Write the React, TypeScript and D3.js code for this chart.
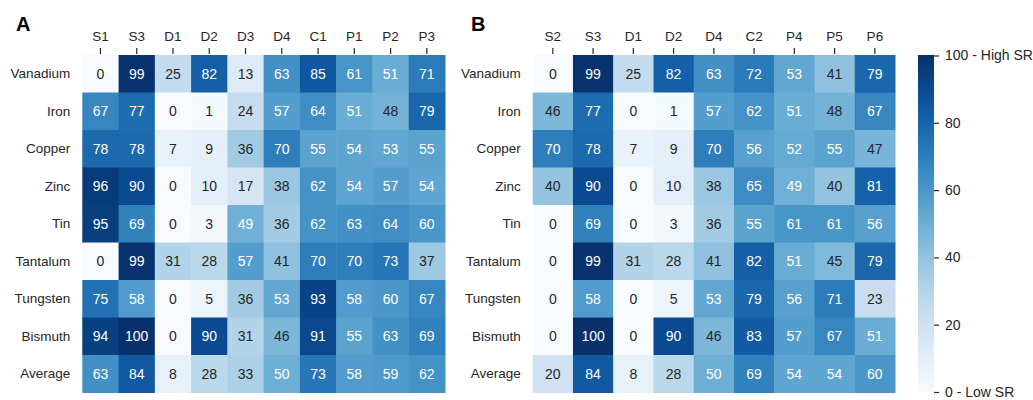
import React, { FC, useEffect, useRef } from "react";
import * as d3 from "d3";

// Row / column labels
const metals = ["Vanadium", "Iron", "Copper", "Zinc", "Tin", "Tantalum", "Tungsten", "Bismuth", "Average"];
const colsA = ["S1", "S3", "D1", "D2", "D3", "D4", "C1", "P1", "P2", "P3"];
const colsB = ["S2", "S3", "D1", "D2", "D4", "C2", "P4", "P5", "P6"];

// Values (rows follow metals order)
const valuesA = [
    [0, 99, 25, 82, 13, 63, 85, 61, 51, 71],
    [67, 77, 0, 1, 24, 57, 64, 51, 48, 79],
    [78, 78, 7, 9, 36, 70, 55, 54, 53, 55],
    [96, 90, 0, 10, 17, 38, 62, 54, 57, 54],
    [95, 69, 0, 3, 49, 36, 62, 63, 64, 60],
    [0, 99, 31, 28, 57, 41, 70, 70, 73, 37],
    [75, 58, 0, 5, 36, 53, 93, 58, 60, 67],
    [94, 100, 0, 90, 31, 46, 91, 55, 63, 69],
    [63, 84, 8, 28, 33, 50, 73, 58, 59, 62],
];
const valuesB = [
    [0, 99, 25, 82, 63, 72, 53, 41, 79],
    [46, 77, 0, 1, 57, 62, 51, 48, 67],
    [70, 78, 7, 9, 70, 56, 52, 55, 47],
    [40, 90, 0, 10, 38, 65, 49, 40, 81],
    [0, 69, 0, 3, 36, 55, 61, 61, 56],
    [0, 99, 31, 28, 41, 82, 51, 45, 79],
    [0, 58, 0, 5, 53, 79, 56, 71, 23],
    [0, 100, 0, 90, 46, 83, 57, 67, 51],
    [20, 84, 8, 28, 50, 69, 54, 54, 60],
];

const colorTicks = [0, 20, 40, 60, 80, 100];
const colorTickLabels: Record<number, string> = { 0: "0 - Low SR", 100: "100 - High SR" };

document.body.style.margin = "0";

const FONT = "'Liberation Sans', Arial, sans-serif";

const App: FC = () => {
    const svgRef = useRef<SVGSVGElement>(null);

    useEffect(() => {
        if (!svgRef.current) return;
        const root = d3.select(svgRef.current);
        root.selectAll("*").remove();

        const color = d3.scaleSequential(d3.interpolateBlues).domain([0, 100]);
        const top = 55, bottom = 392.5;

        const drawPanel = (cols: string[], values: number[][], left: number, right: number, letter: string, letterX: number) => {
            const g = root.append("g");
            const x = d3.scaleBand().domain(cols).range([left, right]);
            const y = d3.scaleBand().domain(metals).range([top, bottom]);

            const cells = values.flatMap((row, i) => row.map((v, j) => ({ r: metals[i], c: cols[j], v })));

            g.selectAll(".cell")
                .data(cells)
                .enter()
                .append("rect")
                .attr("x", d => x(d.c)!)
                .attr("y", d => y(d.r)!)
                .attr("width", x.bandwidth() + 0.5)
                .attr("height", y.bandwidth() + 0.5)
                .attr("fill", d => color(d.v));

            g.selectAll(".val")
                .data(cells)
                .enter()
                .append("text")
                .attr("x", d => x(d.c)! + x.bandwidth() / 2)
                .attr("y", d => y(d.r)! + y.bandwidth() / 2)
                .attr("text-anchor", "middle")
                .attr("dominant-baseline", "central")
                .style("font-family", FONT)
                .style("font-size", "14px")
                .style("fill", d => (d.v >= 49 ? "#ffffff" : "#262626"))
                .text(d => d.v);

            // top axis
            const xAxis = g.append("g")
                .attr("transform", `translate(0,${top - 1})`)
                .call(d3.axisTop(x).tickSize(6).tickSizeOuter(0).tickPadding(7));
            xAxis.select(".domain").remove();
            xAxis.selectAll("line").attr("stroke", "#262626").attr("stroke-width", 1.2);
            xAxis.selectAll("text")
                .style("font-family", FONT)
                .style("font-size", "13.5px")
                .style("fill", "#262626");

            // left labels
            const yAxis = g.append("g")
                .attr("transform", `translate(${left},0)`)
                .call(d3.axisLeft(y).tickSize(0).tickPadding(12));
            yAxis.select(".domain").remove();
            yAxis.selectAll("text")
                .style("font-family", FONT)
                .style("font-size", "13.5px")
                .style("fill", "#262626");

            g.append("text")
                .attr("x", letterX)
                .attr("y", 31)
                .style("font-family", FONT)
                .style("font-size", "20px")
                .style("font-weight", "bold")
                .text(letter);
        };

        drawPanel(colsA, valuesA, 82.3, 445, "A", 16);
        drawPanel(colsB, valuesB, 532.7, 895, "B", 471);

        // colorbar
        const cbX = 918, cbW = 16;
        const defs = root.append("defs");
        const grad = defs.append("linearGradient")
            .attr("id", "cbgrad")
            .attr("x1", "0").attr("y1", "1").attr("x2", "0").attr("y2", "0");
        d3.range(0, 1.0001, 0.05).forEach(t => {
            grad.append("stop").attr("offset", t).attr("stop-color", color(t * 100));
        });
        root.append("rect")
            .attr("x", cbX).attr("y", top)
            .attr("width", cbW).attr("height", bottom - top)
            .attr("fill", "url(#cbgrad)");

        const cy = d3.scaleLinear().domain([0, 100]).range([bottom - 0.5, top + 0.5]);
        const cAxis = root.append("g")
            .attr("transform", `translate(${cbX + cbW},0)`)
            .call(d3.axisRight(cy).tickValues(colorTicks).tickSize(5).tickPadding(6)
                .tickFormat(d => colorTickLabels[+d] ?? String(d)));
        cAxis.select(".domain").remove();
        cAxis.selectAll("line").attr("stroke", "#262626").attr("stroke-width", 1.2);
        cAxis.selectAll("text")
            .style("font-family", FONT)
            .style("font-size", "14px")
            .style("fill", "#262626");
    }, []);

    return (
        <div style={{ width: "1033px", height: "400px" }}>
            <svg ref={svgRef} width={1033} height={400} style={{ display: "block", background: "#fff" }}></svg>
        </div>
    );
};

export default App;
